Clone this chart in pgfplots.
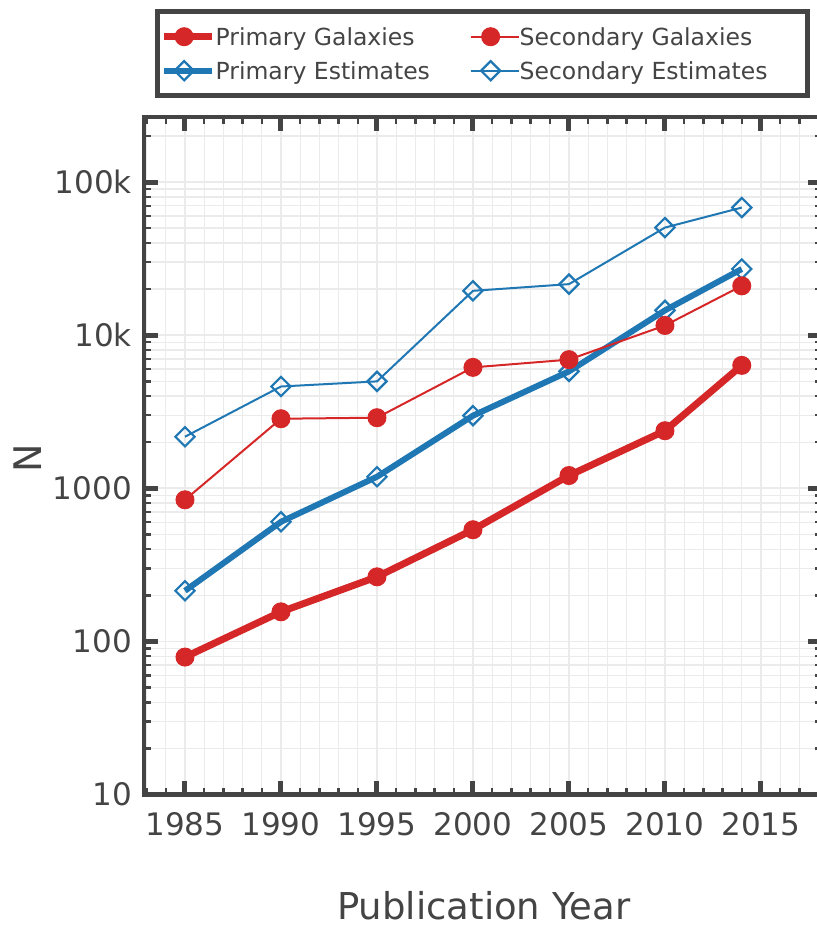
\documentclass[border=0pt]{standalone}
\usepackage{pgfplots}
\pgfplotsset{compat=1.18}
\usepackage{fontspec}
\setmainfont{DejaVu Sans}

\definecolor{axisgray}{HTML}{444444}
\definecolor{gridgray}{HTML}{EBEBEB}
\definecolor{galred}{HTML}{D62728}
\definecolor{estblue}{HTML}{1F77B4}

% Series styles, shared by the plots and the legend images
\pgfplotsset{
  pgal/.style={galred, line width=7pt, mark=*, mark size=9pt,
    mark options={solid, fill=galred, draw=galred, line width=1pt}},
  sgal/.style={galred, line width=2pt, mark=*, mark size=9pt,
    mark options={solid, fill=galred, draw=galred, line width=1pt}},
  pest/.style={estblue, line width=6pt, mark=square, mark size=6.8pt,
    mark options={solid, rotate=45, draw=estblue, fill=none, line width=2.2pt}},
  sest/.style={estblue, line width=2pt, mark=square, mark size=6.8pt,
    mark options={solid, rotate=45, draw=estblue, fill=none, line width=2.2pt}},
}

\newcommand{\legtext}[2]{\makebox[#1][l]{#2}}

\begin{document}
\begin{tikzpicture}
\begin{axis}[
  at={(144pt,135.5pt)}, anchor=south west,
  width=678.4pt, height=677.5pt, scale only axis,
  ymode=log,
  xmin=1982.865, xmax=2018.2,
  ymin=10, ymax=266000,
  xtick={1985,1990,1995,2000,2005,2010,2015},
  xticklabels={1985,1990,1995,2000,2005,2010,2015},
  minor xtick={1983,1984,1986,1987,1988,1989,1991,1992,1993,1994,1996,1997,1998,1999,
    2001,2002,2003,2004,2006,2007,2008,2009,2011,2012,2013,2014,2016,2017,2018},
  ytick={10,100,1000,10000,100000},
  yticklabels={10,100,1000,10k,100k},
  minor ytick={20,30,40,50,60,70,80,90,
    200,300,400,500,600,700,800,900,
    2000,3000,4000,5000,6000,7000,8000,9000,
    20000,30000,40000,50000,60000,70000,80000,90000,200000},
  /pgf/number format/assume math mode=true,
  grid=both,
  major grid style={gridgray, line width=1.6pt},
  minor grid style={gridgray, line width=1.3pt},
  axis line style={axisgray, line width=4.5pt},
  tick align=inside,
  major tick length=14pt, minor tick length=7pt,
  major tick style={axisgray, line width=5pt},
  minor tick style={axisgray, line width=2.5pt},
  xticklabel style={font=\fontsize{31}{31}\selectfont, text=axisgray, inner sep=0pt, yshift=-18pt},
  yticklabel style={font=\fontsize{31}{31}\selectfont, text=axisgray, inner sep=0pt, xshift=-12pt},
  xlabel={Publication Year},
  ylabel={N},
  every axis x label/.style={at={(axis description cs:0.501,-0.1838)}, anchor=base,
    font=\fontsize{37}{37}\selectfont, text=axisgray},
  every axis y label/.style={at={(axis description cs:-0.1512,0.4967)}, rotate=90, anchor=base,
    font=\fontsize{38}{38}\selectfont, text=axisgray},
  legend columns=2,
  legend cell align=left,
  legend image code/.code={
    \draw[mark repeat=2, mark phase=2, #1] plot coordinates {(0pt,0pt) (20pt,0pt) (40pt,0pt)};
    \path (0pt,0pt) -- (48pt,0pt);
  },
  legend style={at={(axis description cs:0.499,1.0934)}, anchor=center,
    draw=axisgray, line width=4.5pt, fill=white,
    font=\fontsize{23.5}{23.5}\selectfont, text=axisgray,
    inner xsep=3pt, inner ysep=8pt, row sep=0pt, column sep=0pt,
    nodes={inner xsep=0pt, inner ysep=8.5pt, text height=17pt, text depth=0pt, text=axisgray}},
]

% drawing order: primary galaxies, primary estimates, secondary galaxies, secondary estimates
\addplot[pgal, forget plot] coordinates {
  (1985,79) (1990,156) (1995,264) (2000,536) (2005,1211) (2010,2376) (2014,6350)
};
\addplot[pest, forget plot] coordinates {
  (1985,214) (1990,604) (1995,1189) (2000,2980) (2005,5800) (2010,14520) (2014,27040)
};
\addplot[sgal, forget plot] coordinates {
  (1985,841) (1990,2846) (1995,2890) (2000,6160) (2005,6920) (2010,11570) (2014,20990)
};
\addplot[sest, forget plot] coordinates {
  (1985,2171) (1990,4620) (1995,4990) (2000,19480) (2005,21540) (2010,50420) (2014,68130)
};

\addlegendimage{pgal}
\addlegendentry{\legtext{254pt}{Primary Galaxies}}
\addlegendimage{sgal}
\addlegendentry{\legtext{284.75pt}{Secondary Galaxies}}
\addlegendimage{pest}
\addlegendentry{\legtext{254pt}{Primary Estimates}}
\addlegendimage{sest}
\addlegendentry{\legtext{284.75pt}{Secondary Estimates}}
\end{axis}
\pgfresetboundingbox
\useasboundingbox (0pt,0pt) rectangle (817pt,930pt);
\end{tikzpicture}
\end{document}
